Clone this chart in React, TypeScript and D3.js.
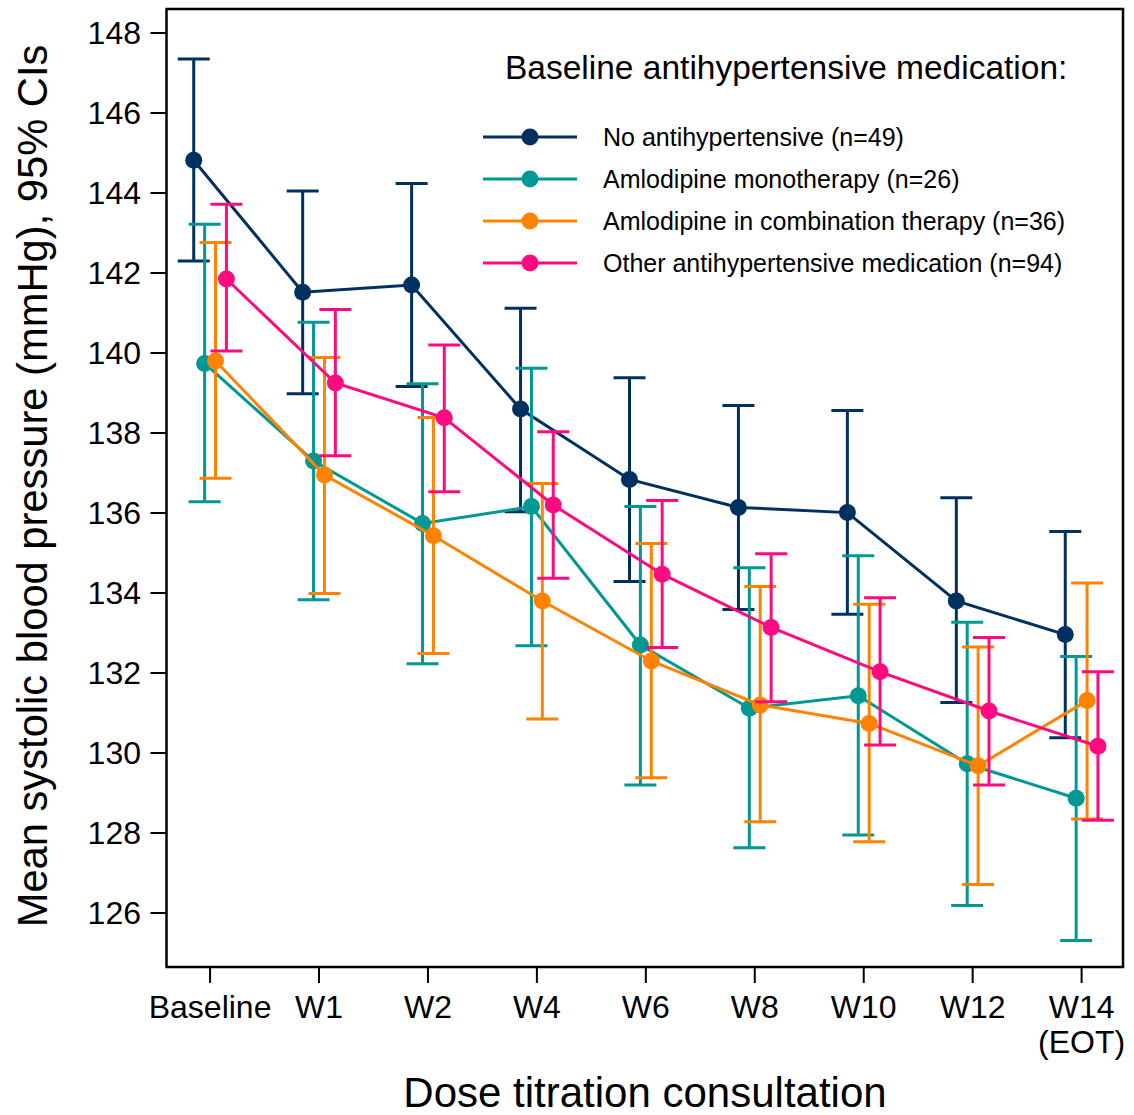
import React from 'react'
import * as d3 from 'd3'

const categories = ['Baseline', 'W1', 'W2', 'W4', 'W6', 'W8', 'W10', 'W12', 'W14']
const yTicks = [126, 128, 130, 132, 134, 136, 138, 140, 142, 144, 146, 148]

const seriesNames = [
  'No antihypertensive (n=49)',
  'Amlodipine monotherapy (n=26)',
  'Amlodipine in combination therapy (n=36)',
  'Other antihypertensive medication (n=94)',
]
const seriesColors = ['#00305f', '#009892', '#ff8300', '#ff0a80']

const noAntiMean = [144.82, 141.52, 141.7, 138.6, 136.84, 136.14, 136.01, 133.8, 132.96]
const noAntiUpper = [147.35, 144.05, 144.24, 141.12, 139.38, 138.69, 138.56, 136.38, 135.54]
const noAntiLower = [142.3, 138.98, 139.16, 136.03, 134.29, 133.59, 133.47, 131.26, 130.38]

const amloMonoMean = [139.74, 137.3, 135.74, 136.16, 132.7, 131.12, 131.43, 129.73, 128.87]
const amloMonoUpper = [143.22, 140.77, 139.23, 139.62, 136.16, 134.63, 134.93, 133.27, 132.41]
const amloMonoLower = [136.28, 133.83, 132.23, 132.68, 129.2, 127.63, 127.95, 126.19, 125.31]

const amloCombMean = [139.8, 136.95, 135.43, 133.8, 132.3, 131.2, 130.74, 129.68, 131.31]
const amloCombUpper = [142.76, 139.89, 138.39, 136.74, 135.24, 134.16, 133.72, 132.65, 134.25]
const amloCombLower = [136.87, 133.99, 132.49, 130.85, 129.38, 128.28, 127.78, 126.71, 128.35]

const otherMean = [141.85, 139.25, 138.38, 136.2, 134.47, 133.14, 132.03, 131.05, 130.17]
const otherUpper = [143.72, 141.09, 140.2, 138.03, 136.31, 134.98, 133.88, 132.89, 132.03]
const otherLower = [140.05, 137.43, 136.53, 134.37, 132.64, 131.28, 130.2, 129.2, 128.32]

const means = [noAntiMean, amloMonoMean, amloCombMean, otherMean]
const uppers = [noAntiUpper, amloMonoUpper, amloCombUpper, otherUpper]
const lowers = [noAntiLower, amloMonoLower, amloCombLower, otherLower]
const offsets = [-0.15, -0.05, 0.05, 0.15]

const width = 1134
const height = 1115
const left = 166.5
const right = 1123
const top = 9
const bottom = 967
const font = '"Liberation Sans", Arial, Helvetica, sans-serif'

const x = d3.scaleLinear().domain([-0.4, 8.38]).range([left, right])
const y = d3.scaleLinear().domain([124.65, 148.6]).range([bottom, top])

export default function App() {
  return (
    <svg width={width} height={height} style={{ position: 'absolute', left: 0, top: 0 }} fontFamily={font}>
      <rect width={width} height={height} fill="white" />

      {/* series: caps, connecting line, dots */}
      {means.map((m, s) => {
        const c = seriesColors[s]
        const off = offsets[s]
        const ln = d3.line<number>().x((d, i) => x(i + off)).y(d => y(d))
        return (
          <g key={s}>
            {m.map((v, i) => {
              const cx = x(i + off)
              return (
                <g key={i} stroke={c} strokeWidth={3}>
                  <line x1={cx} x2={cx} y1={y(uppers[s][i])} y2={y(lowers[s][i])} />
                  <line x1={cx - 16} x2={cx + 16} y1={y(uppers[s][i])} y2={y(uppers[s][i])} />
                  <line x1={cx - 16} x2={cx + 16} y1={y(lowers[s][i])} y2={y(lowers[s][i])} />
                </g>
              )
            })}
            <path d={ln(m) || ''} fill="none" stroke={c} strokeWidth={3} />
            {m.map((v, i) => (
              <circle key={i} cx={x(i + off)} cy={y(v)} r={8.5} fill={c} />
            ))}
          </g>
        )
      })}

      {/* frame */}
      <rect x={left} y={top} width={right - left} height={bottom - top} fill="none" stroke="black" strokeWidth={2.5} />

      {/* y axis */}
      {yTicks.map(t => (
        <g key={t}>
          <line x1={left - 16} x2={left} y1={y(t)} y2={y(t)} stroke="black" strokeWidth={2} />
          <text x={141} y={y(t)} dy="0.35em" textAnchor="end" fontSize={32}>{t}</text>
        </g>
      ))}

      {/* x axis */}
      {categories.map((c, i) => (
        <g key={c}>
          <line x1={x(i)} x2={x(i)} y1={bottom} y2={bottom + 16} stroke="black" strokeWidth={2} />
          <text x={x(i)} y={1018} textAnchor="middle" fontSize={32}>{c}</text>
          {c === 'W14' && (
            <text x={x(i)} y={1053} textAnchor="middle" fontSize={32}>(EOT)</text>
          )}
        </g>
      ))}

      <text x={645} y={1107} textAnchor="middle" fontSize={42}>Dose titration consultation</text>
      <text transform={`translate(47,486) rotate(-90)`} textAnchor="middle" fontSize={41.7}>
        Mean systolic blood pressure (mmHg), 95% CIs
      </text>

      {/* legend */}
      <text x={505} y={79} fontSize={33.5}>Baseline antihypertensive medication:</text>
      {seriesNames.map((n, s) => {
        const cy = 137 + s * 42
        return (
          <g key={n}>
            <line x1={483} x2={577} y1={cy} y2={cy} stroke={seriesColors[s]} strokeWidth={3} />
            <circle cx={530} cy={cy} r={8.5} fill={seriesColors[s]} />
            <text x={603} y={cy} dy="0.35em" fontSize={25}>{n}</text>
          </g>
        )
      })}
    </svg>
  )
}
